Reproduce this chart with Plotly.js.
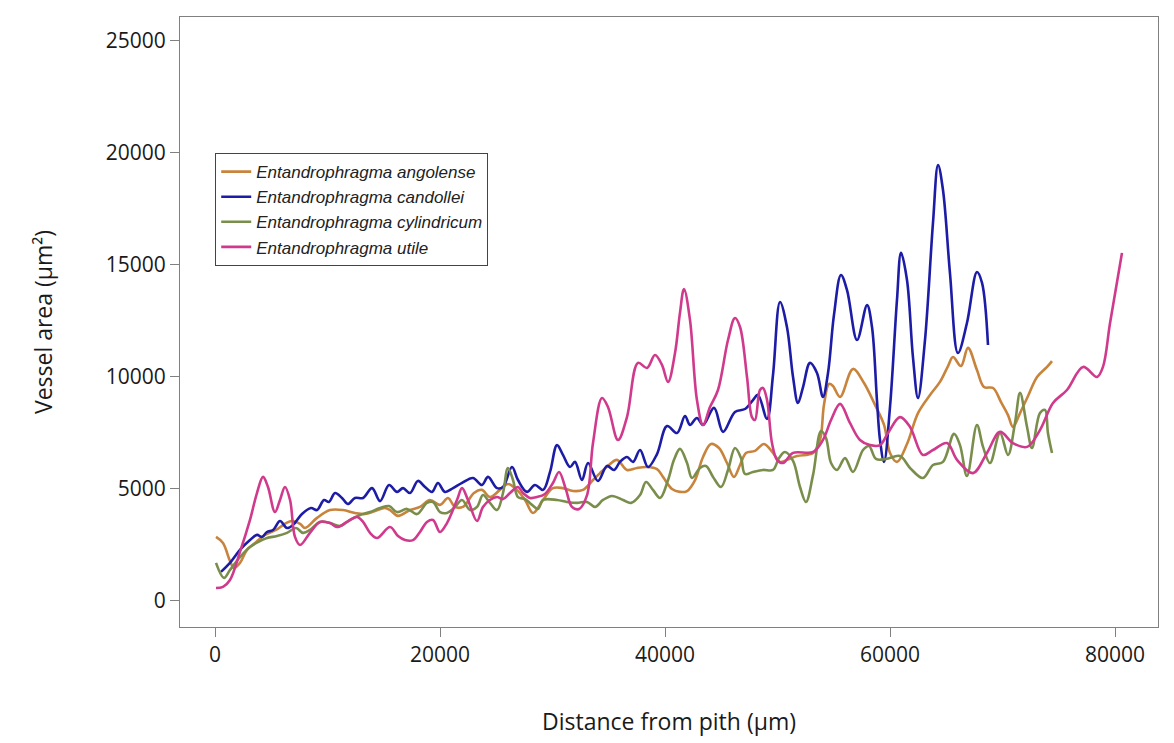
<!DOCTYPE html>
<html>
<head>
<meta charset="utf-8">
<script src="https://cdn.plot.ly/plotly-3.0.1.min.js"></script>
<style>
  html, body { margin: 0; padding: 0; background: #ffffff; }
  #chart { width: 1174px; height: 743px; }
</style>
</head>
<body>
<div id="chart"></div>
<script>
// Series names
const seriesNames = [
  "Entandrophragma angolense",
  "Entandrophragma candollei",
  "Entandrophragma cylindricum",
  "Entandrophragma utile"
];

// Tick values
const xTicks = [0, 20000, 40000, 60000, 80000];
const yTicks = [0, 5000, 10000, 15000, 20000, 25000];

// E. angolense
const angolenseX = [90, 710, 1330, 1690, 2220, 2840, 3560, 4440, 5420, 6310, 6840, 7560, 8000, 9070, 10220, 11380, 12440, 13330, 14220, 15110, 15560, 16270, 17330, 18220, 19110, 20000, 20710, 21330, 22040, 23020, 23730, 24440, 25330, 26040, 26840, 27560, 28270, 29160, 30040, 30930, 31820, 32710, 33600, 34220, 34930, 35730, 36620, 37510, 38400, 39290, 39820, 40620, 41330, 41960, 42670, 43380, 44090, 44800, 45510, 46130, 46670, 47200, 48000, 48800, 49600, 50220, 50840, 51730, 53160, 53780, 54130, 54580, 54930, 55560, 56710, 57690, 58670, 59470, 60000, 60620, 61510, 62490, 63560, 64440, 65160, 65600, 66310, 66930, 67730, 68360, 69160, 69870, 70490, 70930, 71560, 72270, 73070, 73960, 74400];
const angolenseY = [2860, 2590, 1790, 1470, 1700, 2280, 2590, 2950, 3170, 3480, 3570, 3440, 3260, 3710, 4060, 4060, 3930, 3880, 4020, 4150, 4060, 3800, 4060, 4200, 4510, 4290, 4600, 4200, 4200, 4820, 4960, 4640, 4960, 5220, 4960, 4510, 3930, 4510, 5040, 5040, 4910, 4960, 5400, 5710, 6030, 6300, 5850, 5940, 5980, 5890, 5540, 5000, 4870, 4910, 5400, 6430, 7010, 6830, 6160, 5540, 6070, 6610, 6700, 7010, 6610, 6210, 6300, 6470, 6610, 7190, 8750, 9690, 9600, 9110, 10360, 9730, 8750, 7860, 6610, 6210, 7010, 8390, 9200, 9780, 10490, 10890, 10490, 11300, 10310, 9550, 9510, 8880, 8300, 7770, 8390, 9150, 10000, 10450, 10710];

// E. candollei
const candolleiX = [530, 1330, 2220, 3110, 3730, 4180, 4620, 5160, 5780, 6400, 6930, 7730, 8530, 9070, 9690, 10130, 10670, 11290, 11820, 12440, 13160, 13960, 14670, 15470, 16180, 16710, 17330, 18040, 18670, 19290, 19820, 20440, 21160, 21960, 22930, 23730, 24270, 25070, 25600, 26400, 26930, 27730, 28440, 29160, 29780, 30400, 30930, 31560, 32000, 32620, 33160, 34040, 34840, 35470, 36000, 36620, 37160, 37780, 38490, 39290, 40180, 41070, 41780, 42220, 42840, 43380, 44360, 45160, 46220, 47110, 47820, 48270, 49070, 49600, 50220, 50840, 51380, 51820, 52270, 52890, 53510, 54040, 54490, 55020, 55640, 56180, 57070, 57960, 58400, 58840, 59110, 59470, 60000, 60620, 60980, 61510, 62040, 62490, 63110, 63820, 64270, 64710, 65330, 66040, 66840, 67730, 68180, 68710];
const candolleiY = [1300, 1700, 2280, 2720, 2950, 2860, 3080, 3170, 3570, 3260, 3390, 3880, 4150, 4060, 4510, 4420, 4820, 4600, 4330, 4600, 4600, 5040, 4460, 5180, 4870, 5040, 4820, 5360, 5090, 4870, 5270, 4870, 5040, 5270, 5490, 5180, 5540, 5040, 5090, 5980, 5400, 4870, 5180, 4960, 5760, 6960, 6520, 5980, 6210, 5400, 6160, 5360, 6030, 5850, 6210, 6430, 6210, 6740, 5980, 6560, 7810, 7500, 8260, 7860, 8170, 7860, 8620, 7550, 8440, 8570, 8970, 9200, 8130, 10090, 13350, 12230, 10000, 8840, 9550, 10630, 10180, 9110, 10180, 12770, 14550, 13880, 11650, 13210, 12230, 8970, 7190, 6210, 8660, 13440, 15540, 14330, 10890, 9060, 11650, 16880, 19460, 18350, 14640, 11070, 12410, 14690, 14200, 11430];

// E. cylindricum
const cylindricumX = [90, 800, 1330, 2220, 3110, 3820, 4620, 5510, 6400, 7200, 7820, 8440, 9330, 10220, 11110, 12000, 12890, 13780, 14670, 15470, 16180, 17070, 17960, 18840, 19380, 20000, 20620, 21330, 21960, 22670, 23290, 23820, 24440, 25070, 25600, 26040, 26490, 26930, 27560, 28180, 28710, 29160, 30400, 31290, 32180, 33070, 33780, 34490, 35290, 36270, 36980, 37780, 38310, 38930, 39560, 40270, 40800, 41330, 41960, 42400, 43110, 43640, 44270, 44980, 45600, 46220, 46760, 47110, 47820, 48710, 49600, 50130, 50670, 51380, 52000, 52530, 53160, 53870, 54310, 54760, 55290, 56000, 56710, 57600, 58130, 58760, 59640, 60890, 61780, 62930, 63820, 64710, 65690, 66220, 66840, 67730, 68270, 68890, 69780, 70490, 71110, 71560, 72180, 72620, 73330, 73780, 74040, 74400];
const cylindricumY = [1700, 1030, 1380, 1960, 2410, 2630, 2810, 2900, 3040, 3260, 3040, 3170, 3530, 3480, 3350, 3620, 3840, 3970, 4150, 4240, 3970, 4110, 3880, 4380, 4420, 3970, 3930, 4200, 4510, 4060, 4200, 4730, 4380, 4060, 4820, 5940, 5400, 4640, 4550, 4290, 4110, 4510, 4510, 4420, 4380, 4420, 4200, 4510, 4690, 4510, 4380, 4730, 5310, 4960, 4600, 5400, 6300, 6790, 6160, 5490, 5940, 6030, 5540, 5090, 5850, 6830, 6380, 5670, 5760, 5850, 5850, 6380, 6650, 6250, 5090, 4420, 5630, 7590, 7280, 6160, 5850, 6380, 5760, 6740, 6920, 6340, 6340, 6470, 5940, 5490, 6070, 6210, 7460, 6960, 5580, 7860, 6880, 6160, 7500, 6520, 7950, 9290, 7770, 6830, 8390, 8530, 7500, 6610];

// E. utile
const utileX = [90, 710, 1330, 2220, 3110, 3730, 4270, 4710, 5330, 5780, 6220, 6670, 7110, 7560, 8440, 9330, 10220, 10840, 11730, 12620, 13160, 13780, 14400, 15560, 16270, 16890, 17600, 18220, 18840, 19380, 20000, 20620, 21510, 21960, 22490, 23290, 23820, 24440, 25070, 25600, 26220, 26930, 27380, 28000, 28620, 29330, 30040, 30580, 31200, 31730, 32360, 33070, 33600, 34400, 34930, 35820, 36620, 37600, 38400, 39110, 39730, 40270, 40890, 41330, 41690, 42220, 42840, 43380, 44000, 44710, 45600, 46220, 46670, 47290, 47730, 48000, 48440, 48710, 49070, 49510, 49960, 50490, 51380, 53160, 54040, 54760, 55560, 56440, 57330, 58220, 59110, 59820, 60890, 61780, 62930, 63820, 65070, 65960, 67380, 68620, 69780, 70930, 72180, 73330, 74490, 75730, 77160, 78400, 78930, 79560, 80620];
const utileY = [580, 630, 940, 2190, 3620, 4820, 5540, 5090, 3970, 4510, 5090, 4510, 2860, 2500, 3040, 3530, 3480, 3300, 3530, 3750, 3530, 3040, 2810, 3300, 2900, 2720, 2720, 3080, 3530, 3620, 3080, 3480, 4510, 5040, 4510, 3570, 4200, 4510, 4640, 4550, 4820, 5090, 4820, 4600, 4640, 4780, 5270, 5760, 4960, 4200, 4110, 4730, 7050, 9060, 8660, 7190, 8210, 10630, 10400, 10980, 10540, 9780, 11070, 12860, 13930, 12550, 8970, 7860, 8660, 9420, 11650, 12630, 12230, 10000, 8210, 8080, 9420, 9510, 8970, 7050, 6300, 6160, 6610, 6650, 7190, 8080, 8800, 7950, 7190, 6960, 6960, 7500, 8210, 7770, 6520, 6740, 7050, 6300, 5710, 6610, 7550, 7050, 6880, 7630, 8840, 9420, 10450, 10000, 10450, 12410, 15540];

const seriesColors = ["#c8843c", "#1c1ca6", "#7a8e4c", "#d03a8c"];

const xs = [angolenseX, candolleiX, cylindricumX, utileX];
const ys = [angolenseY, candolleiY, cylindricumY, utileY];

const traces = seriesNames.map((name, i) => ({
  type: "scatter",
  mode: "lines",
  name: name,
  x: xs[i],
  y: ys[i],
  line: { color: seriesColors[i], width: 2.6, shape: "spline", smoothing: 1 }
}));

const tickFont = { family: "Open Sans, Noto Sans, sans-serif", size: 21, color: "#1a1a1a" };
const titleFont = { family: "Open Sans, Noto Sans, sans-serif", size: 23, color: "#1a1a1a" };

const layout = {
  width: 1174,
  height: 743,
  paper_bgcolor: "#ffffff",
  plot_bgcolor: "#ffffff",
  margin: { l: 180, r: 16, t: 17, b: 116 },
  showlegend: true,
  legend: {
    x: 0.036, y: 0.777, xanchor: "left", yanchor: "top",
    bgcolor: "#ffffff", bordercolor: "#444444", borderwidth: 1,
    font: { family: "Liberation Sans, Arial, sans-serif", size: 17, color: "#222222", style: "italic" },
    tracegroupgap: 0
  },
  xaxis: {
    range: [-3111, 83822],
    tickvals: xTicks,
    ticktext: xTicks.map(String),
    ticks: "outside", ticklen: 9, tickcolor: "#808080", tickwidth: 1,
    showline: true, linecolor: "#808080", linewidth: 1, mirror: true,
    showgrid: false, zeroline: false,
    tickfont: tickFont,
    title: { text: "Distance from pith (µm)", font: titleFont, standoff: 46 }
  },
  yaxis: {
    range: [-1161, 26071],
    tickvals: yTicks,
    ticktext: yTicks.map(String),
    ticks: "outside", ticklen: 9, tickcolor: "#808080", tickwidth: 1,
    showline: true, linecolor: "#808080", linewidth: 1, mirror: true,
    showgrid: false, zeroline: false,
    tickfont: tickFont,
    title: { text: "Vessel area (µm²)", font: titleFont, standoff: 46 }
  }
};

Plotly.newPlot("chart", traces, layout, { displayModeBar: false, staticPlot: true });
</script>
</body>
</html>
